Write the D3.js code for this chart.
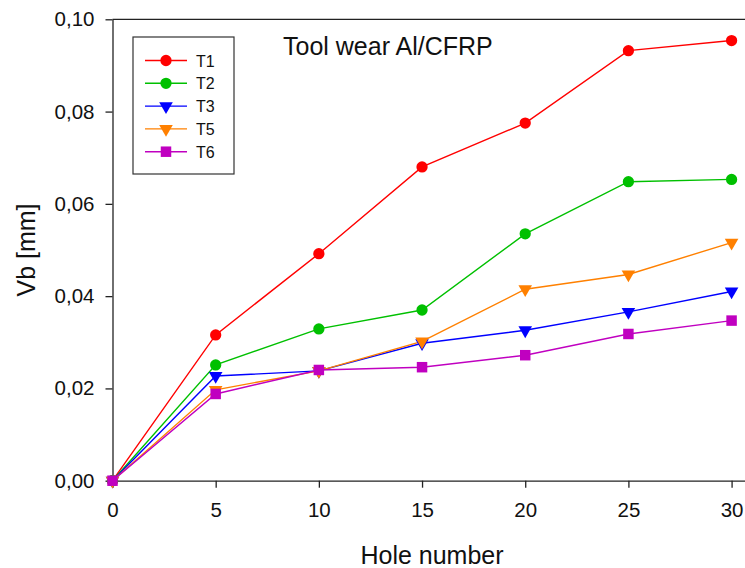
<!DOCTYPE html>
<html>
<head>
<meta charset="utf-8">
<script src="https://cdn.jsdelivr.net/npm/d3@7"></script>
<style>
  body { margin: 0; background: #fff; }
  svg { display: block; font-family: "Liberation Sans", Arial, sans-serif; }
</style>
</head>
<body>
<div id="chart"></div>
<script>
var w = 745;
var h = 568;

// data
var holes = [0, 5, 10, 15, 20, 25, 30];
var seriesNames = ["T1", "T2", "T3", "T5", "T6"];
var T1 = [0, 0.0316, 0.0492, 0.0680, 0.0775, 0.0932, 0.0954];
var T2 = [0, 0.0251, 0.0329, 0.0370, 0.0535, 0.0648, 0.0653];
var T3 = [0, 0.0227, 0.0238, 0.0298, 0.0326, 0.0366, 0.0410];
var T5 = [0, 0.0197, 0.0238, 0.0302, 0.0415, 0.0447, 0.0516];
var T6 = [0, 0.0188, 0.0240, 0.0246, 0.0272, 0.0318, 0.0347];
var xTicks = [0, 5, 10, 15, 20, 25, 30];
var yTicks = [0, 0.02, 0.04, 0.06, 0.08, 0.10];

var colors = ["#ff0000", "#00c000", "#0000ff", "#ff8000", "#c000c0"];
var symbols = [d3.symbolCircle, d3.symbolCircle, d3.symbolTriangle, d3.symbolTriangle, d3.symbolSquare];
var symSizes = [100, 100, 80, 80, 110];
var rotations = [0, 0, 180, 180, 0];
var values = [T1, T2, T3, T5, T6];

var series = seriesNames.map(function (name, i) {
	return {
		name: name,
		color: colors[i],
		symbol: symbols[i],
		size: symSizes[i],
		rot: rotations[i],
		points: holes.map(function (x, j) { return [x, values[i][j]]; })
	};
});

var xScale = d3.scaleLinear().domain([0, 30.65]).range([112.5, 745]);
var yScale = d3.scaleLinear().domain([0, 0.1]).range([480.7, 19.3]);

var svg = d3.select("#chart").append("svg")
	.attr("width", w)
	.attr("height", h);

var fmt = function (d) { return d3.format(".2f")(d).replace(".", ","); };

// axes
var xAxis = svg.append("g")
	.attr("transform", "translate(0," + yScale(0) + ")")
	.call(d3.axisBottom(xScale).tickValues(xTicks).tickSize(7).tickSizeOuter(0).tickPadding(15));
var yAxis = svg.append("g")
	.attr("transform", "translate(" + xScale(0) + ",0)")
	.call(d3.axisLeft(yScale).tickValues(yTicks).tickFormat(fmt).tickSize(7).tickSizeOuter(0).tickPadding(11));

[xAxis, yAxis].forEach(function (a) {
	a.selectAll("path, line").attr("stroke", "#222").attr("stroke-width", 1.3);
	a.selectAll("text").attr("font-size", "20.5px").attr("fill", "#111")
		.attr("font-family", "Liberation Sans, Arial, sans-serif");
});
xAxis.selectAll("text").attr("dy", "0.71em");

// top frame line
svg.append("line")
	.attr("x1", xScale(0)).attr("x2", xScale.range()[1])
	.attr("y1", yScale(0.1)).attr("y2", yScale(0.1))
	.attr("stroke", "#222").attr("stroke-width", 1.3);

// lines
var line = d3.line()
	.x(function (d) { return xScale(d[0]); })
	.y(function (d) { return yScale(d[1]); });

series.forEach(function (s) {
	svg.append("path")
		.datum(s.points)
		.attr("d", line)
		.attr("fill", "none")
		.attr("stroke", s.color)
		.attr("stroke-width", 1.4);
});

series.forEach(function (s) {
	svg.selectAll(null)
		.data(s.points)
		.enter()
		.append("path")
		.attr("d", d3.symbol().type(s.symbol).size(s.size))
		.attr("transform", function (d) {
			return "translate(" + xScale(d[0]) + "," + yScale(d[1]) + ") rotate(" + s.rot + ")";
		})
		.attr("fill", s.color);
});

// legend
var legend = svg.append("g").attr("transform", "translate(133,37)");
legend.append("rect")
	.attr("width", 101).attr("height", 137)
	.attr("fill", "#fff").attr("stroke", "#333").attr("stroke-width", 1.2);
series.forEach(function (s, i) {
	var g = legend.append("g").attr("transform", "translate(0," + (23.5 + i * 22.8) + ")");
	g.append("line").attr("x1", 12).attr("x2", 54).attr("stroke", s.color).attr("stroke-width", 1.4);
	g.append("path")
		.attr("d", d3.symbol().type(s.symbol).size(s.size))
		.attr("transform", "translate(33,0) rotate(" + s.rot + ")")
		.attr("fill", s.color);
	g.append("text").attr("x", 63).attr("y", 6).attr("font-size", "16px").attr("fill", "#111").text(s.name);
});

// titles
svg.append("text")
	.attr("x", 283).attr("y", 55)
	.attr("font-size", "25px").attr("fill", "#111")
	.text("Tool wear Al/CFRP");

svg.append("text")
	.attr("x", 432).attr("y", 564)
	.attr("text-anchor", "middle")
	.attr("font-size", "25px").attr("fill", "#111")
	.text("Hole number");

svg.append("text")
	.attr("transform", "translate(35," + yScale(0.05) + ") rotate(-90)")
	.attr("text-anchor", "middle")
	.attr("font-size", "25px").attr("fill", "#111")
	.text("Vb [mm]");
</script>
</body>
</html>
